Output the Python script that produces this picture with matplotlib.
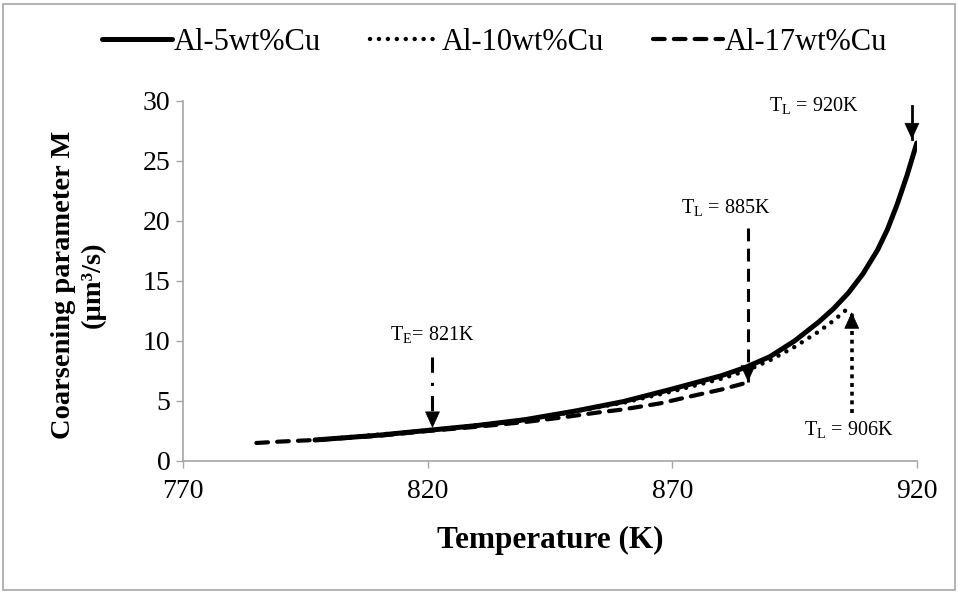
import matplotlib
matplotlib.use("Agg")
import matplotlib.pyplot as plt
from matplotlib.patches import Rectangle

plt.rcParams["font.family"] = ["Liberation Serif", "DejaVu Serif"]
plt.rcParams["mathtext.fontset"] = "custom"
plt.rcParams["mathtext.rm"] = "Liberation Serif"

# Al-5wt%Cu (solid)
t5 = [797, 810, 820, 830, 840, 850, 860, 870, 880, 885, 890, 895, 900, 903, 906, 909,
      912, 914, 916, 918, 920]
m5 = [1.75, 2.15, 2.55, 2.95, 3.45, 4.15, 4.95, 6.0, 7.1, 7.8, 8.7, 10.0, 11.6, 12.7, 14.0,
      15.6, 17.6, 19.3, 21.4, 23.8, 26.5]

# Al-10wt%Cu (dotted)
t10 = [797, 820, 840, 860, 870, 880, 885, 890, 895, 900, 903, 906]
m10 = [1.75, 2.55, 3.4, 4.85, 5.8, 6.85, 7.5, 8.4, 9.5, 10.8, 11.7, 12.75]

# Al-17wt%Cu (dashed)
t17 = [785, 790, 797, 810, 820, 830, 840, 847, 855, 860, 867.5, 875, 880, 885]
m17 = [1.5, 1.62, 1.75, 2.1, 2.5, 2.85, 3.25, 3.6, 4.05, 4.3, 4.8, 5.5, 5.95, 6.5]

xticks = [770, 820, 870, 920]
yticks = [0, 5, 10, 15, 20, 25, 30]

fig = plt.figure(figsize=(9.58, 5.92), dpi=100)
ax = fig.add_axes([0.191, 0.2213, 0.766, 0.6081])

ax.plot(t17, m17, color="black", lw=3, ls=(0, (2.8, 2.2)), dash_capstyle="round",
        label="Al-17wt%Cu", zorder=2)
ax.plot(t10, m10, color="black", lw=3.2, ls=(0, (0.01, 2.0)), dash_capstyle="round",
        label="Al-10wt%Cu", zorder=2)
ax.plot(t5, m5, color="black", lw=3.6, solid_capstyle="round", solid_joinstyle="round",
        label="Al-5wt%Cu", zorder=3)


def arrow(x, y0, y1, style, lw):
    # shaft in its own line style, head drawn solid
    ax.plot([x, x], [y0, y1], color="black", lw=lw, ls=style, dash_capstyle="butt", zorder=4)
    d = 1.2 if y1 < y0 else -1.2
    ax.annotate("", xy=(x, y1), xytext=(x, y1 + d),
                arrowprops=dict(arrowstyle="-|>,head_length=11,head_width=5", mutation_scale=1,
                                color="black", lw=0.5, shrinkA=0, shrinkB=0), zorder=5)


arrow(821, 8.7, 2.75, (0, (5, 3.3, 1, 3.3)), 2.2)
arrow(885.5, 19.4, 6.6, (0, (4.2, 2.4)), 2.2)
arrow(906.7, 4.0, 12.4, (0, (1.1, 1.3)), 2.6)
arrow(919, 29.6, 26.8, "-", 2.0)

ann = 14.5
ax.text(821, 9.6, r"T$_\mathregular{E}$= 821K", fontsize=ann, ha="center", va="bottom")
ax.text(881, 20.2, r"T$_\mathregular{L}$ = 885K", fontsize=ann, ha="center", va="bottom")
ax.text(906, 1.7, r"T$_\mathregular{L}$ = 906K", fontsize=ann, ha="center", va="bottom")
ax.text(899, 28.7, r"T$_\mathregular{L}$ = 920K", fontsize=ann, ha="center", va="bottom")

ax.set_xlim(770, 920)
ax.set_ylim(0, 30)
ax.set_xticks(xticks)
ax.set_yticks(yticks)
ax.tick_params(labelsize=20, color="#A6A6A6", length=5, width=1)
ax.tick_params(axis="x", pad=8)
ax.tick_params(axis="y", pad=4)
for s in ["top", "right"]:
    ax.spines[s].set_visible(False)
for s in ["left", "bottom"]:
    ax.spines[s].set_color("#A6A6A6")
    ax.spines[s].set_linewidth(1.2)

ax.set_xlabel("Temperature (K)", fontsize=22.5, fontweight="bold")
ax.xaxis.set_label_coords(0.5, -0.18)
ax.set_ylabel("Coarsening parameter M\n(µm³/s)", fontsize=20.5, fontweight="bold",
              linespacing=1.25)
ax.yaxis.set_label_coords(-0.105, 0.49)

h, l = ax.get_legend_handles_labels()
order = [2, 1, 0]
fig.legend([h[i] for i in order], [l[i] for i in order], loc="center",
           bbox_to_anchor=(0.516, 0.928), ncol=3, frameon=False, fontsize=22,
           handlelength=2.3, handletextpad=0.05, columnspacing=1.6)

fig.patches.append(Rectangle((0.003, 0.004), 0.994, 0.99, transform=fig.transFigure,
                             fill=False, edgecolor="#A6A6A6", lw=1.2))

fig.savefig("out.png", dpi=100)
